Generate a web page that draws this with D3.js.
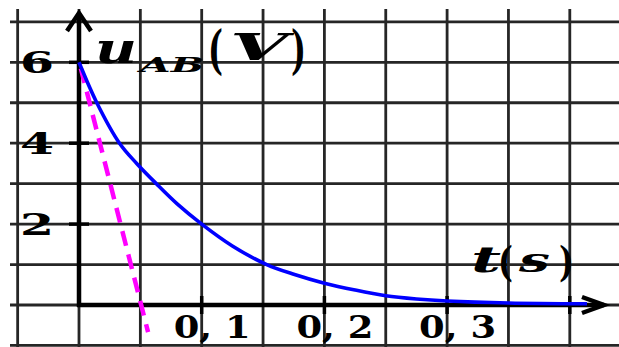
<!DOCTYPE html>
<html>
<head>
<meta charset="utf-8">
<script src="https://cdn.jsdelivr.net/npm/d3@7"></script>
<style>
  body { margin: 0; background: #fff; }
  svg { display: block; }
  text { font-family: "DejaVu Serif", serif; font-weight: bold; fill: #000; }
</style>
</head>
<body>
<script>
var width = 619;
var height = 347;

// courbe u_AB(t)
var tVals = [0, 0.0145, 0.033, 0.047, 0.063, 0.08, 0.1, 0.125, 0.153, 0.175, 0.2, 0.225, 0.25, 0.275, 0.3, 0.35, 0.414];
var uVals = [6, 5, 4, 3.5, 3, 2.5, 2, 1.46, 1, 0.76, 0.54, 0.37, 0.23, 0.15, 0.1, 0.05, 0.03];

// tangente a l'origine (pointilles)
var tangT = [0.0015, 0.0563];
var tangU = [5.85, -0.67];

// graduations
var yTicks = [2, 4, 6];
var xTicks = [0.1, 0.2, 0.3, 0.4];
var xLabels = [0.1, 0.2, 0.3];

// quadrillage
var gridT = [-0.05, 0, 0.05, 0.1, 0.15, 0.2, 0.25, 0.3, 0.35, 0.4, 0.45];
var gridU = [-1, 0, 1, 2, 3, 4, 5, 6, 7];

var x = d3.scaleLinear().domain([0, 0.4]).range([79, 569.8]);
var y = d3.scaleLinear().domain([0, 6]).range([305, 62.3]);

var svg = d3.select("body").append("svg")
  .attr("width", width)
  .attr("height", height);

/* quadrillage */
var grid = svg.append("g")
  .attr("stroke", "#262626")
  .attr("stroke-width", 2.8);

grid.selectAll(".v")
  .data(gridT)
  .enter().append("line")
  .attr("x1", d => x(d)).attr("x2", d => x(d))
  .attr("y1", 9).attr("y2", height);

grid.selectAll(".h")
  .data(gridU)
  .enter().append("line")
  .attr("x1", 10).attr("x2", width)
  .attr("y1", d => y(d)).attr("y2", d => y(d));

/* axes */
var axes = svg.append("g")
  .attr("stroke", "#000")
  .attr("stroke-width", 4.5)
  .attr("fill", "none")
  .attr("stroke-linecap", "butt");

axes.append("line")
  .attr("x1", x(0)).attr("x2", x(0))
  .attr("y1", y(0) + 2).attr("y2", 13);
axes.append("path")
  .attr("d", "M" + (x(0) - 12) + ",31 L" + x(0) + ",13 L" + (x(0) + 12) + ",31");

axes.append("line")
  .attr("x1", x(0) - 2).attr("x2", 604)
  .attr("y1", y(0)).attr("y2", y(0));
axes.append("path")
  .attr("d", "M582,297 L604," + y(0) + " L582,313");

axes.selectAll(".yt")
  .data(yTicks)
  .enter().append("line")
  .attr("stroke-width", 3.5)
  .attr("x1", x(0) - 10).attr("x2", x(0) + 10)
  .attr("y1", d => y(d)).attr("y2", d => y(d));

axes.selectAll(".xt")
  .data(xTicks)
  .enter().append("line")
  .attr("stroke-width", 3.5)
  .attr("x1", d => x(d)).attr("x2", d => x(d))
  .attr("y1", y(0) - 9).attr("y2", y(0) + 9);

/* tangente */
svg.append("path")
  .datum(d3.zip(tangT, tangU))
  .attr("fill", "none")
  .attr("stroke", "#ff00ff")
  .attr("stroke-width", 4.5)
  .attr("stroke-dasharray", "15,9")
  .attr("d", d3.line().x(d => x(d[0])).y(d => y(d[1])));

/* courbe */
svg.append("path")
  .datum(d3.zip(tVals, uVals))
  .attr("fill", "none")
  .attr("stroke", "#0000ff")
  .attr("stroke-width", 3.6)
  .attr("d", d3.line().curve(d3.curveCatmullRom.alpha(0.5)).x(d => x(d[0])).y(d => y(d[1])));

/* etiquettes */
svg.selectAll(".ylab")
  .data(yTicks)
  .enter().append("text")
  .attr("x", 20)
  .attr("y", d => y(d) + 11)
  .attr("font-size", 30)
  .attr("textLength", 34)
  .attr("lengthAdjust", "spacingAndGlyphs")
  .text(d => d);

svg.selectAll(".xlab")
  .data(xLabels)
  .enter().append("text")
  .attr("x", d => x(d) - 28)
  .attr("y", 338)
  .attr("font-size", 31)
  .attr("textLength", 77)
  .attr("lengthAdjust", "spacingAndGlyphs")
  .text(d => String(d).replace(".", ", "));

function piece(s, px, py, size, italic, len) {
  var t = svg.append("text")
    .attr("x", px).attr("y", py)
    .attr("font-size", size)
    .style("font-style", italic ? "italic" : "normal")
    .text(s);
  if (len) t.attr("textLength", len).attr("lengthAdjust", "spacingAndGlyphs");
  return t;
}

/* titre axe vertical */
piece("u", 95, 63, 42, true, 42);
piece("AB", 140, 72, 21, true, 64);
piece("(", 208, 68, 52, false, 15);
piece("V", 230, 60, 38, true, 58);
piece(")", 291, 68, 52, false, 15);

/* titre axe horizontal */
piece("t", 471, 272, 35, true, 30);
piece("(", 498, 276, 41, false, 15);
piece("s", 519, 272, 34, true, 31);
piece(")", 559, 276, 41, false, 15);
</script>
</body>
</html>
